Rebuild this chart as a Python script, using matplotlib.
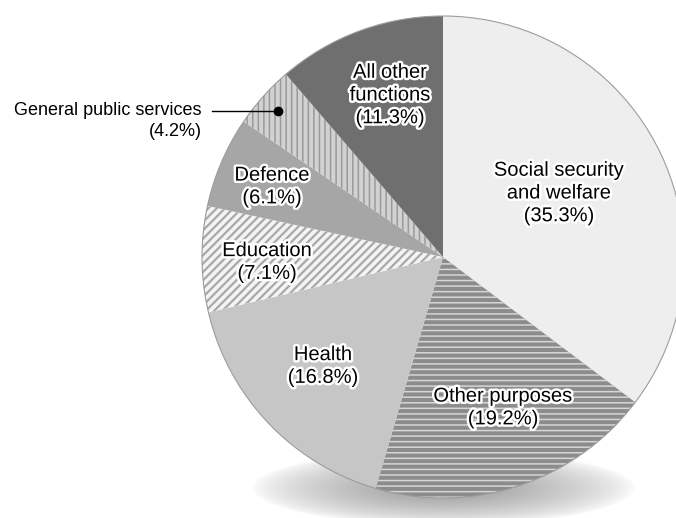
import numpy as np
import matplotlib
matplotlib.use("Agg")
import matplotlib.pyplot as plt
import matplotlib.patheffects as pe
from matplotlib.patches import Circle

plt.rcParams['font.family'] = ['Liberation Sans', 'DejaVu Sans']

# Shares of spending by function (%), clockwise from 12 o'clock
categories = ["Social security\nand welfare", "Other purposes", "Health",
              "Education", "Defence", "General public services",
              "All other\nfunctions"]
shares = [35.3, 19.2, 16.8, 7.1, 6.1, 4.2, 11.3]

face_colors = ["#eeeeee", "#8c8c8c", "#c6c6c6", "#f4f4f4", "#a6a6a6", "#d2d2d2", "#6f6f6f"]
hatches = [None, "---", None, "////", None, "|||", None]
hatch_colors = [None, "#d6d6d6", None, "#a9a9a9", None, "#9a9a9a", None]

W, H = 676, 518
fig = plt.figure(figsize=(W / 100, H / 100), dpi=100)
ax = fig.add_axes([0, 0, 1, 1])
ax.set_xlim(0, W)
ax.set_ylim(0, H)
ax.axis("off")

cx, cy, R = 443, H - 257, 241

# soft drop shadow under the pie
xs = np.linspace(0, W, W)
ys = np.linspace(0, 90, 90)
X, Y = np.meshgrid(xs, ys)
sx, sy, a, b = 444, H - 488, 192, 38
r = np.sqrt(((X - sx) / a) ** 2 + ((Y - sy) / b) ** 2)
dark = np.clip(1 - r, 0, 1) ** 0.7 * 0.7
img = np.ones((90, W, 4))
img[..., :3] = 0.42
img[..., 3] = dark
ax.imshow(img, extent=(0, W, 0, 90), origin="lower", zorder=0, aspect="auto",
          interpolation="bilinear")

wedges, _ = ax.pie(shares, startangle=90, counterclock=False,
                   center=(cx, cy), radius=R, colors=face_colors,
                   wedgeprops=dict(linewidth=0))
for w, h, hc in zip(wedges, hatches, hatch_colors):
    w.set_zorder(2)
    if h:
        w.set_hatch(h)
        w.set_edgecolor(hc)
        w.set_linewidth(0)
        if hasattr(w, "set_hatch_linewidth"):
            w.set_hatch_linewidth(1.6 if h == "////" else 1.1)

ax.add_patch(Circle((cx, cy), R, facecolor="none", edgecolor="#9c9c9c",
                    linewidth=0.8, zorder=3))
ax.set_xlim(0, W)
ax.set_ylim(0, H)
ax.set_aspect("auto")

stroke = [pe.withStroke(linewidth=3.5, foreground="white")]
labels = [f"{c}\n({s}%)" for c, s in zip(categories, shares)]
label_pos = [(559, 193), (503, 407.5), (323, 366), (267, 262),
             (272, 186.5), None, (390, 95)]
for lab, pos in zip(labels, label_pos):
    if pos is None:
        continue
    ax.text(pos[0], H - pos[1], lab, ha="center", va="center", fontsize=14.5,
            linespacing=1.25, color="black", path_effects=stroke, zorder=5)

# callout for the thin slice
gps = labels[5]
ax.text(202, H - 121, gps, ha="right", va="center", fontsize=13,
        linespacing=1.35, multialignment="right", color="black", zorder=5)
ax.plot([212, 278], [H - 111, H - 111], color="black", lw=1.0, zorder=5)
ax.plot([278], [H - 111], "o", color="black", ms=6, zorder=6)

fig.savefig("out.png", dpi=100)
